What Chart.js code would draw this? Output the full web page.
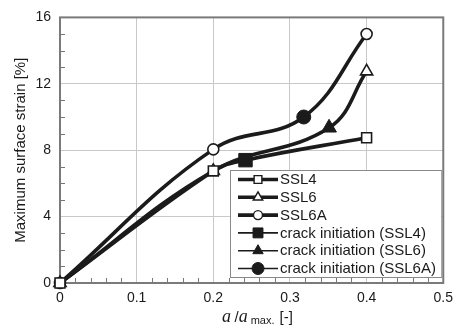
<!DOCTYPE html>
<html lang="en">
<head>
    <meta charset="UTF-8">
    <title>Maximum surface strain</title>
    <script src="https://cdn.jsdelivr.net/npm/chart.js"></script>
    <style>
        html, body { margin: 0; padding: 0; background: #fff; }
        .canvas-container { position: relative; width: 460px; height: 332px; }
    </style>
</head>
<body>

<div class="canvas-container">
    <canvas id="strainChart"></canvas>
</div>

<script>
    // x values: crack length ratio a/a_max, y values: maximum surface strain [%]
    const ssl4X = [0, 0.2, 0.242, 0.4];
    const ssl4Y = [0, 6.75, 7.4, 8.75];
    const ssl6X = [0, 0.2, 0.351, 0.4];
    const ssl6Y = [0, 6.75, 9.35, 12.75];
    const ssl6aX = [0, 0.2, 0.318, 0.4];
    const ssl6aY = [0, 8.05, 10.0, 15.0];

    // crack initiation points (index into the series above)
    const crackIndex = [2, 2, 2];

    const xTicks = [0, 0.1, 0.2, 0.3, 0.4, 0.5];
    const yTicks = [0, 4, 8, 12, 16];

    const legendLabels = ['SSL4', 'SSL6', 'SSL6A',
        'crack initiation (SSL4)', 'crack initiation (SSL6)', 'crack initiation (SSL6A)'];

    const ink = '#1b1b1b';
    const font = '"Liberation Sans", Arial, sans-serif';

    function toPoints(xs, ys) {
        return xs.map((x, i) => ({ x: x, y: ys[i] }));
    }

    function mainSeries(label, xs, ys, style, radius, ci) {
        return {
            label: label,
            data: toPoints(xs, ys),
            borderColor: ink,
            borderWidth: 3.6,
            backgroundColor: '#fff',
            pointStyle: style,
            pointRadius: xs.map((x, i) => i === ci ? 0 : radius),
            pointBorderWidth: 1.6,
            pointBorderColor: ink,
            pointBackgroundColor: '#fff',
            tension: 0.4,
            showLine: true,
            clip: false,
            order: 2
        };
    }

    function crackSeries(label, xs, ys, ci, style, radius) {
        return {
            label: label,
            data: [{ x: xs[ci], y: ys[ci] }],
            borderColor: ink,
            backgroundColor: ink,
            pointStyle: style,
            pointRadius: radius,
            pointBorderWidth: 1,
            showLine: false,
            clip: false,
            order: 1
        };
    }

    const datasets = [
        mainSeries(legendLabels[0], ssl4X, ssl4Y, 'rect', 7, crackIndex[0]),
        mainSeries(legendLabels[1], ssl6X, ssl6Y, 'triangle', 7, crackIndex[1]),
        mainSeries(legendLabels[2], ssl6aX, ssl6aY, 'circle', 5.5, crackIndex[2]),
        crackSeries(legendLabels[3], ssl4X, ssl4Y, crackIndex[0], 'rect', 9.5),
        crackSeries(legendLabels[4], ssl6X, ssl6Y, crackIndex[1], 'triangle', 8.5),
        crackSeries(legendLabels[5], ssl6aX, ssl6aY, crackIndex[2], 'circle', 7)
    ];

    // frame, minor ticks, legend box and the x axis title
    const decorations = {
        id: 'decorations',
        beforeDatasetsDraw(chart) {
            const { ctx, chartArea: a, scales } = chart;
            ctx.save();
            ctx.strokeStyle = '#777';
            ctx.lineWidth = 1;
            ctx.beginPath();
            for (let v = 1; v < 16; v++) {
                if (v % 4 === 0) continue;
                const y = Math.round(scales.y.getPixelForValue(v)) + 0.5;
                ctx.moveTo(a.left, y);
                ctx.lineTo(a.left + 5, y);
            }
            for (let k = 1; k < 25; k++) {
                if (k % 5 === 0) continue;
                const x = Math.round(scales.x.getPixelForValue(k * 0.02)) + 0.5;
                ctx.moveTo(x, a.bottom);
                ctx.lineTo(x, a.bottom - 5);
            }
            ctx.stroke();
            ctx.lineWidth = 2;
            ctx.strokeStyle = '#7a7a7a';
            ctx.strokeRect(a.left, a.top, a.right - a.left, a.bottom - a.top);
            ctx.restore();
        },
        afterDraw(chart) {
            const { ctx, chartArea: a } = chart;
            ctx.save();

            // legend
            const bx = 230, by = 170, bw = a.right - 2 - bx, bh = 107;
            ctx.fillStyle = '#fff';
            ctx.fillRect(bx, by, bw, bh);
            ctx.strokeStyle = '#8a8a8a';
            ctx.lineWidth = 1;
            ctx.strokeRect(bx + 0.5, by + 0.5, bw, bh);
            const rowH = 17.8;
            chart.data.datasets.forEach((ds, i) => {
                const cy = by + 9.5 + i * rowH;
                const thick = i < 3;
                ctx.strokeStyle = ink;
                ctx.lineWidth = thick ? 3.6 : 1.6;
                ctx.beginPath();
                ctx.moveTo(238, cy);
                ctx.lineTo(278, cy);
                ctx.stroke();
                const r = thick ? (i === 2 ? 4.5 : 5.5) : (i === 3 ? 7 : 6);
                ctx.fillStyle = thick ? '#fff' : ink;
                ctx.strokeStyle = ink;
                ctx.lineWidth = thick ? 1.4 : 1;
                Chart.helpers.drawPoint(ctx, {
                    pointStyle: ds.pointStyle,
                    radius: r,
                    borderWidth: thick ? 1.4 : 1
                }, 258, cy);
                ctx.fillStyle = '#1a1a1a';
                ctx.font = '15px ' + font;
                ctx.textBaseline = 'middle';
                ctx.textAlign = 'left';
                ctx.fillText(ds.label, 280, cy + 0.5);
            });

            // x axis title: a / a max. [-]
            const ty = 322;
            let x = 222;
            ctx.fillStyle = '#1a1a1a';
            ctx.textBaseline = 'alphabetic';
            ctx.font = 'italic 18px "Liberation Serif", "Times New Roman", serif';
            ctx.fillText('a', x, ty);
            x += ctx.measureText('a ').width - 1;
            ctx.font = '15px ' + font;
            ctx.fillText('/', x, ty);
            x += ctx.measureText('/').width;
            ctx.font = 'italic 18px "Liberation Serif", "Times New Roman", serif';
            ctx.fillText('a', x, ty);
            x += ctx.measureText('a').width + 3;
            ctx.font = '11px ' + font;
            ctx.fillText('max.', x, ty + 2);
            x += ctx.measureText('max.').width + 5;
            ctx.font = '15px ' + font;
            ctx.fillText('[-]', x, ty);
            ctx.restore();
        }
    };

    const ctx = document.getElementById('strainChart').getContext('2d');

    const strainChart = new Chart(ctx, {
        type: 'scatter',
        data: { datasets: datasets },
        plugins: [decorations],
        options: {
            responsive: true,
            maintainAspectRatio: false,
            animation: false,
            layout: { padding: { top: 17, right: 13, left: 10, bottom: 0 } },
            plugins: {
                legend: { display: false },
                tooltip: { enabled: false }
            },
            scales: {
                x: {
                    type: 'linear',
                    min: 0,
                    max: 0.5,
                    afterBuildTicks: s => { s.ticks = xTicks.map(v => ({ value: v })); },
                    afterFit: s => { s.height = 49; },
                    grid: {
                        color: c => (c.tick && c.tick.value > 0 && c.tick.value < 0.5) ? '#c8c8c8' : 'rgba(0,0,0,0)',
                        lineWidth: 1,
                        drawTicks: false
                    },
                    border: { display: false },
                    ticks: {
                        color: '#1a1a1a',
                        font: { family: font, size: 14 },
                        padding: 7,
                        maxRotation: 0,
                        callback: v => String(v)
                    }
                },
                y: {
                    type: 'linear',
                    min: 0,
                    max: 16,
                    afterBuildTicks: s => { s.ticks = yTicks.map(v => ({ value: v })); },
                    afterFit: s => { s.width = 50; },
                    grid: {
                        color: c => (c.tick && c.tick.value > 0 && c.tick.value < 16) ? '#c8c8c8' : 'rgba(0,0,0,0)',
                        lineWidth: 1,
                        drawTicks: false
                    },
                    border: { display: false },
                    ticks: {
                        color: '#1a1a1a',
                        font: { family: font, size: 14 },
                        padding: 9
                    },
                    title: {
                        display: true,
                        text: 'Maximum surface strain [%]',
                        color: '#1a1a1a',
                        font: { family: font, size: 15 },
                        padding: { top: 2, bottom: 4 }
                    }
                }
            }
        }
    });
</script>

</body>
</html>
